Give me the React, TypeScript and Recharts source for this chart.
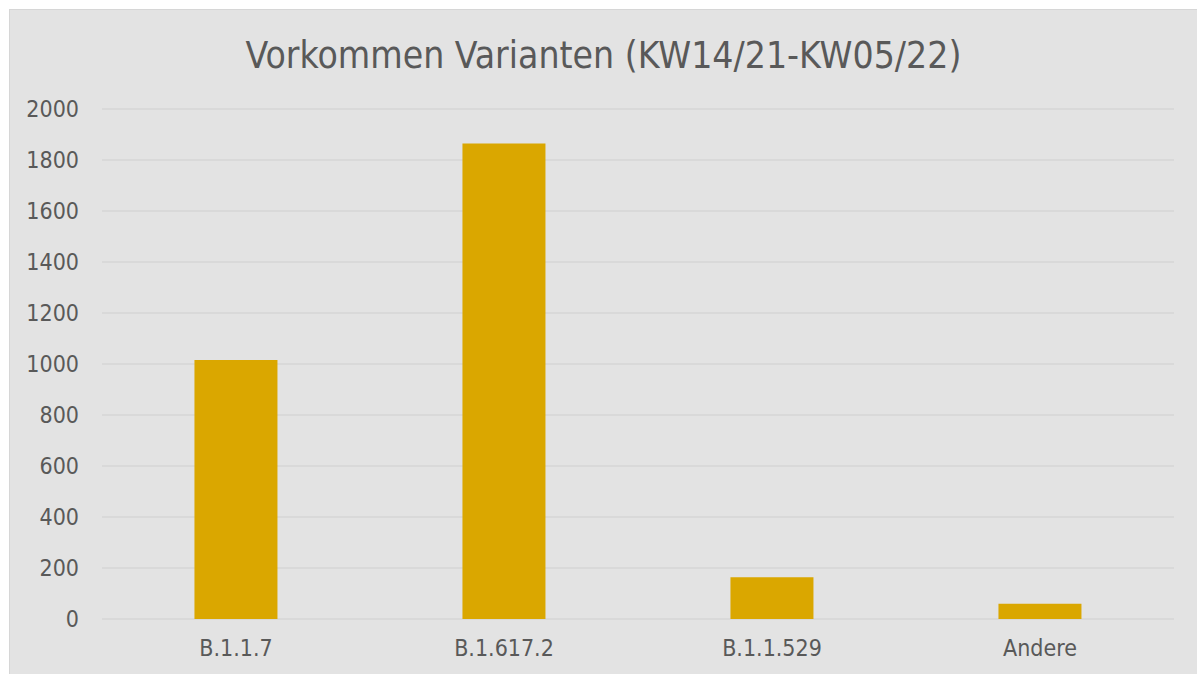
import { Bar, BarChart, CartesianGrid, XAxis, YAxis } from 'recharts';

const variants = ['B.1.1.7', 'B.1.617.2', 'B.1.1.529', 'Andere'];
const counts = [1016, 1865, 164, 60];
const yTicks = [0, 200, 400, 600, 800, 1000, 1200, 1400, 1600, 1800, 2000];

const data = variants.map((name, i) => ({ name, count: counts[i] }));

const FONT = '"DejaVu Sans Condensed", "DejaVu Sans", sans-serif';
const tick = { fontSize: 23, fill: '#595959', fontFamily: FONT };

export default function App() {
  return (
    <div
      style={{
        position: 'absolute',
        left: 9,
        top: 9,
        width: 1188,
        height: 665,
        background: '#e3e3e3',
        borderTop: '1px solid #d6d6d6',
        borderLeft: '1px solid #d6d6d6',
        boxSizing: 'border-box',
      }}
    >
      <div
        style={{
          position: 'absolute',
          left: 0,
          right: 0,
          top: 23,
          textAlign: 'center',
          fontFamily: FONT,
          fontSize: 37,
          color: '#595959',
          lineHeight: '46px',
        }}
      >
        Vorkommen Varianten (KW14/21-KW05/22)
      </div>
      <BarChart
        width={1187}
        height={664}
        data={data}
        margin={{ top: 99, right: 23, left: 0, bottom: 25 }}
        barCategoryGap="34.5%"
      >
        <CartesianGrid vertical={false} stroke="#d6d6d6" strokeWidth={1.3} />
        <XAxis
          dataKey="name"
          axisLine={false}
          tickLine={false}
          tickSize={0}
          tickMargin={21}
          tick={tick}
          height={30}
        />
        <YAxis
          domain={[0, 2000]}
          ticks={yTicks}
          axisLine={false}
          tickLine={false}
          tickSize={0}
          tickMargin={23}
          tick={tick}
          width={92}
        />
        <Bar dataKey="count" fill="#daa700" isAnimationActive={false} />
      </BarChart>
    </div>
  );
}
